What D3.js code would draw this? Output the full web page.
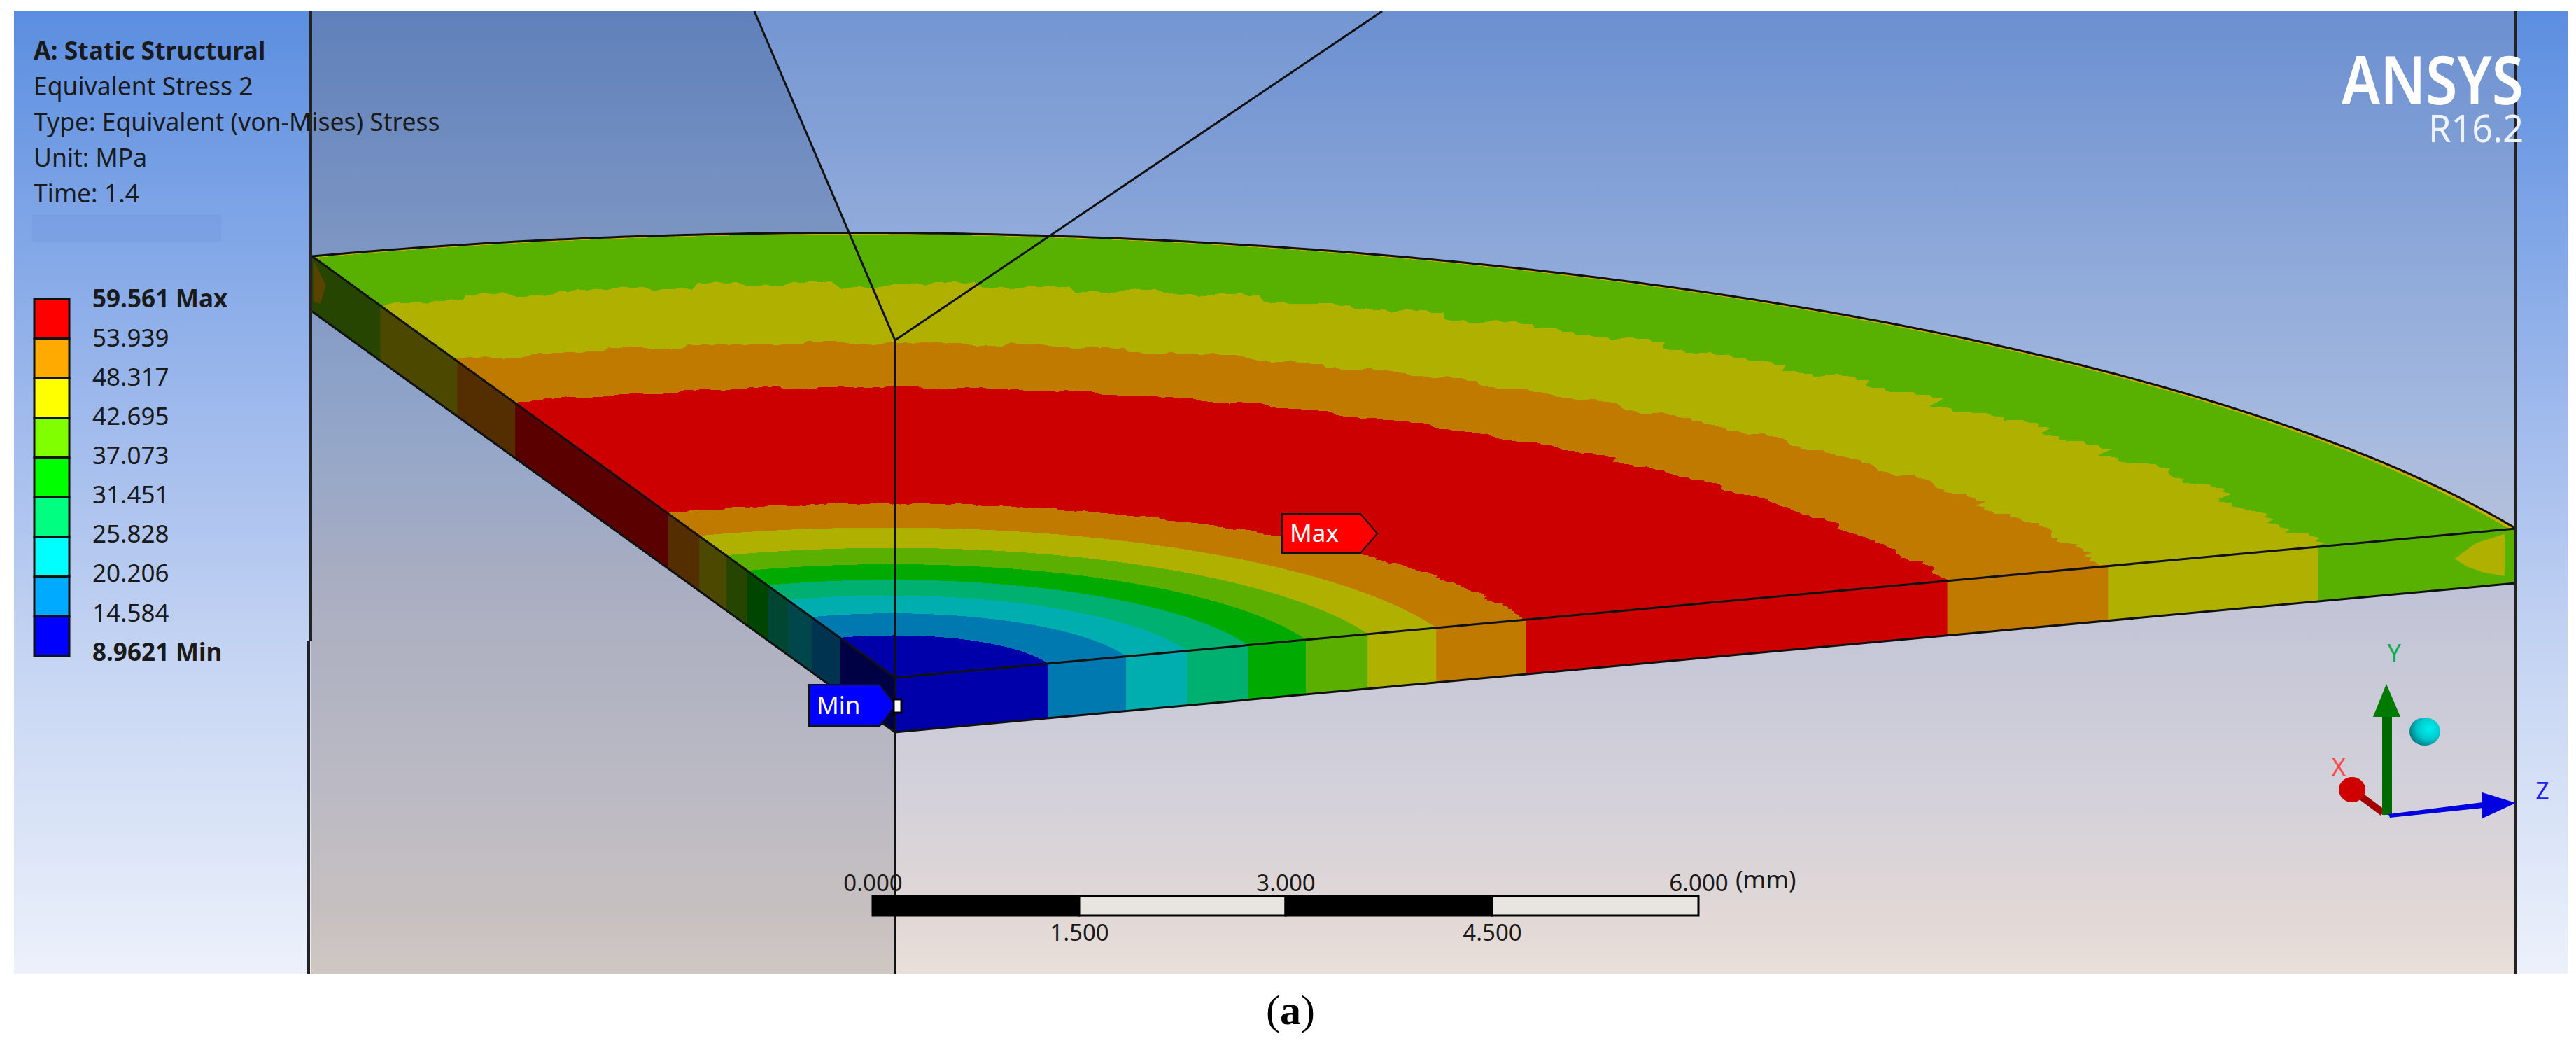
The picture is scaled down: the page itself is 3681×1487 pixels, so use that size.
<!DOCTYPE html>
<html>
<head>
<meta charset="utf-8">
<script src="https://cdnjs.cloudflare.com/ajax/libs/d3/7.8.5/d3.min.js"></script>
<style>
    body { margin: 0; background: #fff; }
    text { font-family: "Noto Sans", sans-serif; }
</style>
</head>
<body>
<div id="viz"></div>
<script>
// contour levels for the legend, top to bottom
const legendLabels = ["59.561 Max", "53.939", "48.317", "42.695", "37.073", "31.451", "25.828", "20.206", "14.584", "8.9621 Min"];
const legendColors = ["#ff0000", "#ffaa00", "#ffff00", "#80ff00", "#00ff00", "#00ff80", "#00ffff", "#00aaff", "#0000ff"];
const infoLines = ["A: Static Structural", "Equivalent Stress 2", "Type: Equivalent (von-Mises) Stress", "Unit: MPa", "Time: 1.4"];

// contour bands on the plate as a fraction of the outer radius,
// read along the left edge and along the front edge
const edgesLeft = [0.0893, 0.136, 0.1746, 0.208, 0.2416, 0.277, 0.322, 0.3746, 0.637, 0.739, 0.877, 0.996, 1];
const edgesFront = [0.0938, 0.142, 0.1794, 0.2168, 0.2525, 0.2905, 0.3327, 0.388, 0.648, 0.7475, 0.8775, 0.996, 1];
const bandColors = ["#0000aa", "#0078b0", "#00aeb0", "#00b070", "#00aa00", "#5aaf00", "#b0b000", "#c07a00", "#cc0000", "#c07a00", "#b0b000", "#58b000", "#c8b000"];
const sideColors = ["#000045", "#003350", "#00464a", "#004630", "#004500", "#254500", "#4d4800", "#542e00", "#5a0000", "#542e00", "#4d4800", "#254500", "#254500"];
// how ragged each band's outer edge is
const bandRough = [0, 0, 0, 0, 0, 0, 0, 0.003, 0.005, 0.007, 0.011, 0, 0];
const ragged = [0.4, -0.6, 1, -0.2, 0.7, -1, 0.1, 0.9, -0.5, 0.3, -0.8, 0.6, -0.1, 1, -0.7, 0.2, -0.3, 0.8, -0.9, 0.5, 0, -0.4, 0.9, -0.6, 0.2];

// lighter patches at the ends of the side faces: [r, depth through the plate]
const frontPatch = [[0.962, 0.45], [0.975, 0.2], [0.993, 0.08], [0.993, 0.85], [0.98, 0.75], [0.97, 0.62]];
const sidePatch = [[0.998, 0.05], [0.975, 0.35], [0.985, 0.75], [0.998, 0.8]];

const scaleTicksTop = [0, 3, 6];
const scaleTicksBottom = [1.5, 4.5];
const scaleSegments = [[0, 1.5, "#000"], [1.5, 3, "#e8e4e0"], [3, 4.5, "#000"], [4.5, 6, "#e8e4e0"]];

const width = 3681, height = 1487;
const view = { left: 20, top: 16, right: 3669, bottom: 1391 };
const lineL = 444, lineR = 3595, centerX = 1279, apexY = 486;

const svg = d3.select("#viz").append("svg")
    .attr("width", width)
    .attr("height", height);
const defs = svg.append("defs");

function vGradient(id, stops) {
    const g = defs.append("linearGradient").attr("id", id)
        .attr("gradientUnits", "userSpaceOnUse")
        .attr("x1", 0).attr("x2", 0).attr("y1", view.top).attr("y2", view.bottom);
    stops.forEach(s => g.append("stop").attr("offset", s[0]).attr("stop-color", s[1]));
}
vGradient("strip", [[0, "#5b8ee0"], [0.45, "#a4bded"], [0.7, "#c9d7f3"], [1, "#ecf1fb"]]);
vGradient("back", [[0, "#6b8fd0"], [0.28, "#91abda"], [0.44, "#a6badf"], [0.62, "#c2c4d6"], [0.8, "#d2d0da"], [0.93, "#e0d7d6"], [1, "#e9e0da"]]);

const ball = defs.append("radialGradient").attr("id", "ball").attr("cx", 0.65).attr("cy", 0.4).attr("r", 0.7);
ball.append("stop").attr("offset", 0).attr("stop-color", "#00f0f0");
ball.append("stop").attr("offset", 0.55).attr("stop-color", "#00c8cc");
ball.append("stop").attr("offset", 1).attr("stop-color", "#00747c");

// background strips and the three planes behind the model
svg.append("rect").attr("x", view.left).attr("y", view.top)
    .attr("width", view.right - view.left).attr("height", view.bottom - view.top)
    .attr("fill", "url(#strip)");
svg.append("rect").attr("x", lineL).attr("y", view.top)
    .attr("width", lineR - lineL).attr("height", view.bottom - view.top)
    .attr("fill", "url(#back)");

const line = d3.line();
const wedgeTopL = 1078, wedgeTopR = 1975;
svg.append("path")
    .attr("d", line([[lineL, view.top], [wedgeTopL, view.top], [centerX, apexY], [centerX, view.bottom], [lineL, view.bottom]]) + "Z")
    .attr("fill", "#101828").attr("opacity", 0.12);
svg.append("path")
    .attr("d", line([[wedgeTopL, view.top], [wedgeTopR, view.top], [centerX, apexY]]) + "Z")
    .attr("fill", "#fff").attr("opacity", 0.06);

// plate corners on screen
const C = [centerX, 968], L = [446, 366], R = [lineR, 755];
const lowerLeftY = d3.scaleLinear().domain([L[0], C[0]]).range([445, 1046]);
const lowerRightY = d3.scaleLinear().domain([C[0], R[0]]).range([1046, 833]);

// perspective mapping of the plate: u runs to L, v runs to R
const pa = 0.0681, pb = 0.00624;
function project(u, v) {
    const w = pa * u + pb * v + 1;
    const x = ((L[0] * (pa + 1) - C[0]) * u + (R[0] * (pb + 1) - C[0]) * v + C[0]) / w;
    const y = ((L[1] * (pa + 1) - C[1]) * u + (R[1] * (pb + 1) - C[1]) * v + C[1]) / w;
    return [x, y];
}
const angle = d3.scaleLinear().domain([0, 240]).range([0, Math.PI / 2]);
const steps = d3.range(0, 241);

function sector(i) {
    const pts = steps.map(k => {
        const t = angle(k);
        const base = edgesLeft[i] + (edgesFront[i] - edgesLeft[i]) * Math.sin(t) * Math.sin(t);
        const chunk = ragged[(Math.floor(k / 5) + i * 7) % ragged.length];
        const fine = ragged[(k + i * 3) % ragged.length];
        const r = base + bandRough[i] * (0.7 * chunk + 0.3 * fine);
        return project(r * Math.cos(t), r * Math.sin(t));
    });
    return line([C, ...pts]) + "Z";
}

// top face, outermost first
const topFace = svg.append("g");
d3.range(edgesLeft.length - 1, -1, -1).forEach(i => {
    topFace.append("path").attr("d", sector(i)).attr("fill", bandColors[i])
        .attr("shape-rendering", "crispEdges");
});

// side faces use the same bands
function sidePoint(r, depth, isFront) {
    const p = isFront ? project(0, r) : project(r, 0);
    const lowY = isFront ? lowerRightY(p[0]) : lowerLeftY(p[0]);
    return [p[0], p[1] + (lowY - p[1]) * depth];
}
[true, false].forEach(isFront => {
    const edges = isFront ? edgesFront : edgesLeft;
    edges.forEach((edge, i) => {
        const inner = i === 0 ? 0 : edges[i - 1];
        const fill = isFront ? bandColors[i === 12 ? 11 : i] : sideColors[i];
        svg.append("path")
            .attr("d", line([sidePoint(inner, 0, isFront), sidePoint(edge, 0, isFront), sidePoint(edge, 1, isFront), sidePoint(inner, 1, isFront)]) + "Z")
            .attr("fill", fill)
            .attr("stroke", fill)
            .attr("stroke-width", 1);
    });
});
svg.append("path").attr("d", line(frontPatch.map(d => sidePoint(d[0], d[1], true))) + "Z").attr("fill", "#b0b000");
svg.append("path").attr("d", line(sidePatch.map(d => sidePoint(d[0], d[1], false))) + "Z").attr("fill", "#5a4300");

// outlines of the plate
const outer = steps.map(k => project(Math.cos(angle(k)), Math.sin(angle(k))));
const edgeStyle = sel => sel.attr("fill", "none").attr("stroke", "#111").attr("stroke-width", 3);
svg.append("path").attr("d", line(outer)).call(edgeStyle);
svg.append("path").attr("d", line([L, C, R])).call(edgeStyle);
svg.append("path").attr("d", line([[L[0], lowerLeftY(L[0])], [C[0], lowerLeftY(C[0])], [R[0], lowerRightY(R[0])]])).call(edgeStyle);

// reference lines over the model
const thin = sel => sel.attr("fill", "none").attr("stroke", "#111").attr("stroke-width", 3);
svg.append("path").attr("d", line([[wedgeTopL, view.top], [centerX, apexY], [wedgeTopR, view.top]])).call(thin);
svg.append("path").attr("d", line([[centerX, apexY], [centerX, view.bottom]])).call(thin);
svg.append("path").attr("d", line([[lineL, view.top], [lineL, 916]])).attr("stroke", "#222").attr("stroke-width", 4);
svg.append("path").attr("d", line([[441, 916], [441, view.bottom]])).attr("stroke", "#222").attr("stroke-width", 4);
svg.append("path").attr("d", line([[lineR, view.top], [lineR, view.bottom]])).attr("stroke", "#222").attr("stroke-width", 4);

// info block
const infoY = d3.scalePoint().domain(infoLines).range([73, 277]);
svg.append("g").selectAll("text").data(infoLines).join("text")
    .attr("x", 48)
    .attr("y", d => infoY(d))
    .attr("dy", "0.35em")
    .attr("font-size", 35.5)
    .attr("font-weight", (d, i) => i === 0 ? 700 : 400)
    .attr("fill", "#1a1a1a")
    .text(d => d);
svg.append("rect").attr("x", 46).attr("y", 306).attr("width", 270).attr("height", 39)
    .attr("fill", "#6a90d8").attr("opacity", 0.25);

// legend
const legendY = d3.scaleBand().domain(legendColors).range([427, 937]);
svg.append("g").selectAll("rect").data(legendColors).join("rect")
    .attr("x", 49)
    .attr("y", d => legendY(d))
    .attr("width", 50)
    .attr("height", legendY.bandwidth())
    .attr("fill", d => d)
    .attr("stroke", "#111")
    .attr("stroke-width", 3);
const labelY = d3.scalePoint().domain(legendLabels).range([427, 932]);
svg.append("g")
    .attr("transform", "translate(129,0)")
    .call(d3.axisRight(labelY).tickSize(0))
    .call(g => g.select(".domain").remove())
    .call(g => g.selectAll("text")
        .attr("font-size", 35)
        .attr("fill", "#1a1a1a")
        .attr("font-family", '"Noto Sans", sans-serif')
        .attr("font-weight", d => /M/.test(d) ? 700 : 400));

// scale bar
const barX = d3.scaleLinear().domain([0, 6]).range([1247, 2427]);
svg.append("g").selectAll("rect").data(scaleSegments).join("rect")
    .attr("x", d => barX(d[0]))
    .attr("y", 1280)
    .attr("width", d => barX(d[1]) - barX(d[0]))
    .attr("height", 28)
    .attr("fill", d => d[2])
    .attr("stroke", "#000")
    .attr("stroke-width", 3);
const barAxis = (sel, axis) => sel.call(axis.tickSize(0).tickFormat(d3.format(".3f")))
    .call(g => g.select(".domain").remove())
    .call(g => g.selectAll("text").attr("font-size", 33).attr("fill", "#1a1a1a")
        .attr("font-family", '"Noto Sans", sans-serif'));
svg.append("g").attr("transform", "translate(0,1276)").call(barAxis, d3.axisTop(barX).tickValues(scaleTicksTop));
svg.append("g").attr("transform", "translate(0,1318)").call(barAxis, d3.axisBottom(barX).tickValues(scaleTicksBottom));
svg.append("text").attr("x", barX(6) + 53).attr("y", 1257).attr("dy", "0.35em")
    .attr("font-size", 35).attr("fill", "#1a1a1a").text("(mm)");

// min and max probes
function probe(x0, x1, tip, y0, y1, fill, label) {
    svg.append("path")
        .attr("d", line([[x0, y0], [x1, y0], [tip, (y0 + y1) / 2], [x1, y1], [x0, y1]]) + "Z")
        .attr("fill", fill).attr("stroke", "#111").attr("stroke-width", 2);
    svg.append("text").attr("x", x0 + 11).attr("y", (y0 + y1) / 2).attr("dy", "0.35em")
        .attr("font-size", 35).attr("fill", "#fff").text(label);
}
probe(1156, 1257, 1280, 978, 1037, "#0000ff", "Min");
svg.append("rect").attr("x", 1277).attr("y", 999).attr("width", 11).attr("height", 19)
    .attr("fill", "#fff").attr("stroke", "#000").attr("stroke-width", 3);
probe(1832, 1944, 1968, 734, 790, "#ff0000", "Max");

// ANSYS logo
svg.append("text").attr("x", 3606).attr("y", 149).attr("text-anchor", "end")
    .attr("font-size", 96).attr("font-weight", 600).attr("fill", "#fff")
    .attr("textLength", 260).attr("lengthAdjust", "spacingAndGlyphs").text("ANSYS");
svg.append("text").attr("x", 3606).attr("y", 203).attr("text-anchor", "end")
    .attr("font-size", 54).attr("fill", "#eef2fa")
    .attr("textLength", 136).attr("lengthAdjust", "spacingAndGlyphs").text("R16.2");

// triad
const triad = svg.append("g");
triad.append("path").attr("d", line([[3361, 1128], [3405, 1161]])).attr("stroke", "#a00000").attr("stroke-width", 10);
triad.append("ellipse").attr("cx", 3361).attr("cy", 1128).attr("rx", 19).attr("ry", 18).attr("fill", "#d00000");
triad.append("rect").attr("x", 3404).attr("y", 1024).attr("width", 14).attr("height", 140).attr("fill", "#006a00");
triad.append("path").attr("d", line([[3410, 977], [3391, 1024], [3430, 1024]]) + "Z").attr("fill", "#007a00");
triad.append("path").attr("d", line([[3413, 1163], [3548, 1146], [3549, 1154], [3415, 1168]]) + "Z").attr("fill", "#0000e0");
triad.append("path").attr("d", line([[3595, 1147], [3547, 1132], [3547, 1169]]) + "Z").attr("fill", "#0000e0");
triad.append("ellipse").attr("cx", 3465).attr("cy", 1045).attr("rx", 22).attr("ry", 20).attr("fill", "url(#ball)");
[["X", 3342, 1096, "#ff4848"], ["Y", 3421, 933, "#00b050"], ["Z", 3633, 1130, "#2020f0"]].forEach(t => {
    triad.append("text").attr("x", t[1]).attr("y", t[2]).attr("dy", "0.35em").attr("text-anchor", "middle")
        .attr("font-size", 34).attr("fill", t[3]).text(t[0]);
});

// caption
const caption = svg.append("text").attr("x", 1844).attr("y", 1463).attr("text-anchor", "middle")
    .attr("font-size", 60).attr("fill", "#000")
    .style("font-family", '"Liberation Serif", serif');
caption.append("tspan").text("(");
caption.append("tspan").attr("font-weight", 700).text("a");
caption.append("tspan").text(")");
</script>
</body>
</html>
